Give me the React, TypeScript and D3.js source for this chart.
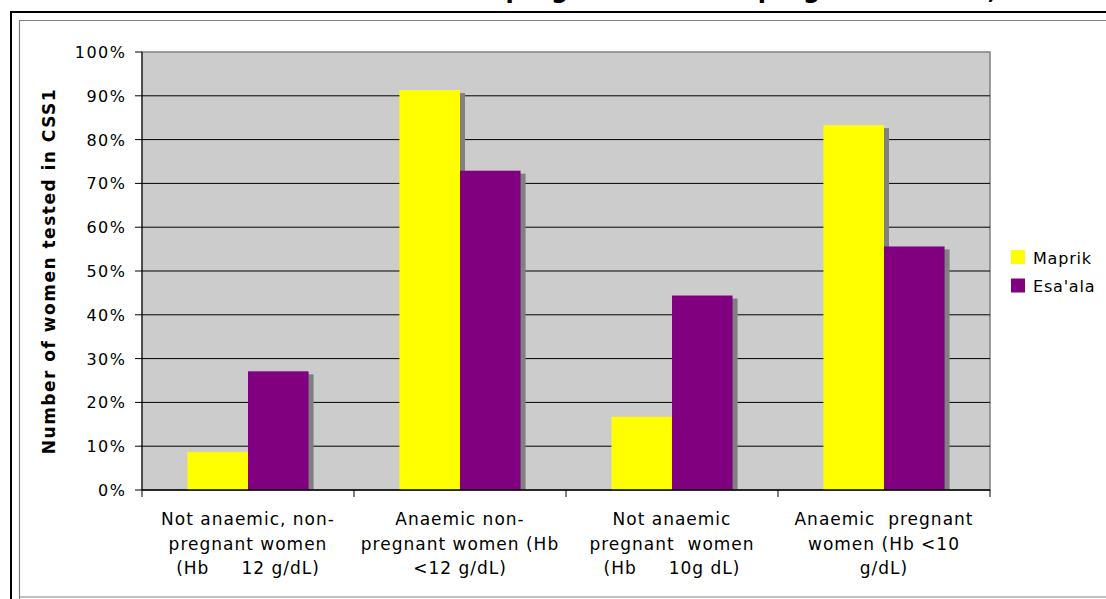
import * as d3 from "d3";

// data
const categoryLines = [
  ["Not anaemic, non-", "pregnant women", "(Hb     12 g/dL)"],
  ["Anaemic non-", "pregnant women (Hb", "<12 g/dL)"],
  ["Not anaemic", "pregnant  women", "(Hb     10g dL)"],
  ["Anaemic  pregnant", "women (Hb <10", "g/dL)"],
];
const categories = ["c1", "c2", "c3", "c4"];
const seriesNames = ["Maprik", "Esa'ala"];
const seriesColors = ["#ffff00", "#800080"];
const maprik = [8.7, 91.3, 16.7, 83.3];
const esaala = [27.1, 72.9, 44.4, 55.6];
const yTicks = [0, 10, 20, 30, 40, 50, 60, 70, 80, 90, 100];
const yTitle = "Number of women tested in CSS1";
const title = "Anaemia in pregnant and non-pregnant women, CSS1";

const W = 1106;
const H = 599;
const plot = { left: 142, right: 990, top: 52, bottom: 490 };
const font = "'DejaVu Sans', Verdana, sans-serif";

export default function App() {
  const values = [maprik, esaala];
  const x0 = d3.scaleBand<string>().domain(categories).range([plot.left, plot.right]).padding(0);
  const x1 = d3
    .scaleBand<string>()
    .domain(seriesNames)
    .range([0, x0.bandwidth()])
    .paddingInner(0)
    .paddingOuter(0.75);
  const y = d3.scaleLinear().domain([0, 100]).range([plot.bottom, plot.top]);
  const bounds = categories.map((c) => x0(c)!).concat([plot.right]);
  const shadowDx = 5;
  const shadowDy = 3;

  return (
    <div style={{ position: "fixed", left: 0, top: 0, width: W, height: H, background: "#fff" }}>
      <svg width={W} height={H} style={{ display: "block", fontFamily: font }}>
        {/* title, cut off by the top of the page as in the source */}
        <text x={346} y={-2.5} fontSize={24} fontWeight="bold" fill="#000">
          {title}
        </text>
        {/* outer frames */}
        <path d={`M11,${H + 5} V12 H${W + 5}`} fill="none" stroke="#000" strokeWidth={2} />
        <path d={`M19.5,${H + 5} V20.5 H${W + 5} M19.5,597 H${W + 5}`} fill="none" stroke="#808080" strokeWidth={1.2} />

        {/* plot area */}
        <rect
          x={plot.left}
          y={plot.top}
          width={plot.right - plot.left}
          height={plot.bottom - plot.top}
          fill="#cccccc"
          stroke="#808080"
          strokeWidth={1.5}
        />
        {yTicks.slice(1, -1).map((t) => (
          <line key={t} x1={plot.left} x2={plot.right} y1={y(t)} y2={y(t)} stroke="#000" strokeWidth={1} />
        ))}

        {/* shadows first, then bars */}
        {categories.map((c, i) =>
          seriesNames.map((s, j) => {
            const bx = x0(c)! + x1(s)!;
            const top = y(values[j][i]) + shadowDy;
            return (
              <rect
                key={`sh-${c}-${s}`}
                x={bx + shadowDx}
                y={top}
                width={x1.bandwidth()}
                height={Math.max(0, plot.bottom - top)}
                fill="#808080"
              />
            );
          })
        )}
        {categories.map((c, i) =>
          seriesNames.map((s, j) => {
            const bx = x0(c)! + x1(s)!;
            return (
              <rect
                key={`b-${c}-${s}`}
                x={bx}
                y={y(values[j][i])}
                width={x1.bandwidth()}
                height={plot.bottom - y(values[j][i])}
                fill={seriesColors[j]}
              />
            );
          })
        )}

        {/* axes */}
        <line x1={plot.left} x2={plot.left} y1={plot.top} y2={plot.bottom} stroke="#000" strokeWidth={1} />
        <line x1={plot.left} x2={plot.right} y1={plot.bottom} y2={plot.bottom} stroke="#000" strokeWidth={1.5} />
        {yTicks.map((t) => (
          <g key={`yt-${t}`}>
            <line x1={plot.left - 7} x2={plot.left} y1={y(t)} y2={y(t)} stroke="#000" />
            <text
              x={126.5}
              y={y(t)}
              dy="0.38em"
              textAnchor="end"
              fontSize={16}
              letterSpacing={1.5}
              fill="#000"
            >
              {t}%
            </text>
          </g>
        ))}
        {bounds.map((b, i) => (
          <line key={`xt-${i}`} x1={b} x2={b} y1={plot.bottom} y2={plot.bottom + 7} stroke="#000" />
        ))}
        {categories.map((c, i) => (
          <text
            key={`xl-${c}`}
            x={x0(c)! + x0.bandwidth() / 2}
            y={plot.bottom + 35}
            textAnchor="middle"
            fontSize={17}
            letterSpacing={1}
            fill="#000"
            style={{ whiteSpace: "pre" }}
          >
            {categoryLines[i].map((ln, k) => (
              <tspan key={k} x={x0(c)! + x0.bandwidth() / 2} y={plot.bottom + 35 + k * 24.5}>
                {ln}
              </tspan>
            ))}
          </text>
        ))}

        {/* y-axis title */}
        <text
          transform={`translate(55,${(plot.top + plot.bottom) / 2}) rotate(-90)`}
          textAnchor="middle"
          fontSize={17}
          fontWeight="bold"
          letterSpacing={1.5}
          fill="#000"
        >
          {yTitle}
        </text>

        {/* legend */}
        {seriesNames.map((s, j) => (
          <g key={`lg-${s}`} transform={`translate(1011,${250 + j * 28.5})`}>
            <rect x={0} y={0} width={14} height={14} fill={seriesColors[j]} />
            <text x={22} y={13.5} fontSize={16} letterSpacing={0.8} fill="#000">
              {s}
            </text>
          </g>
        ))}
      </svg>
    </div>
  );
}
